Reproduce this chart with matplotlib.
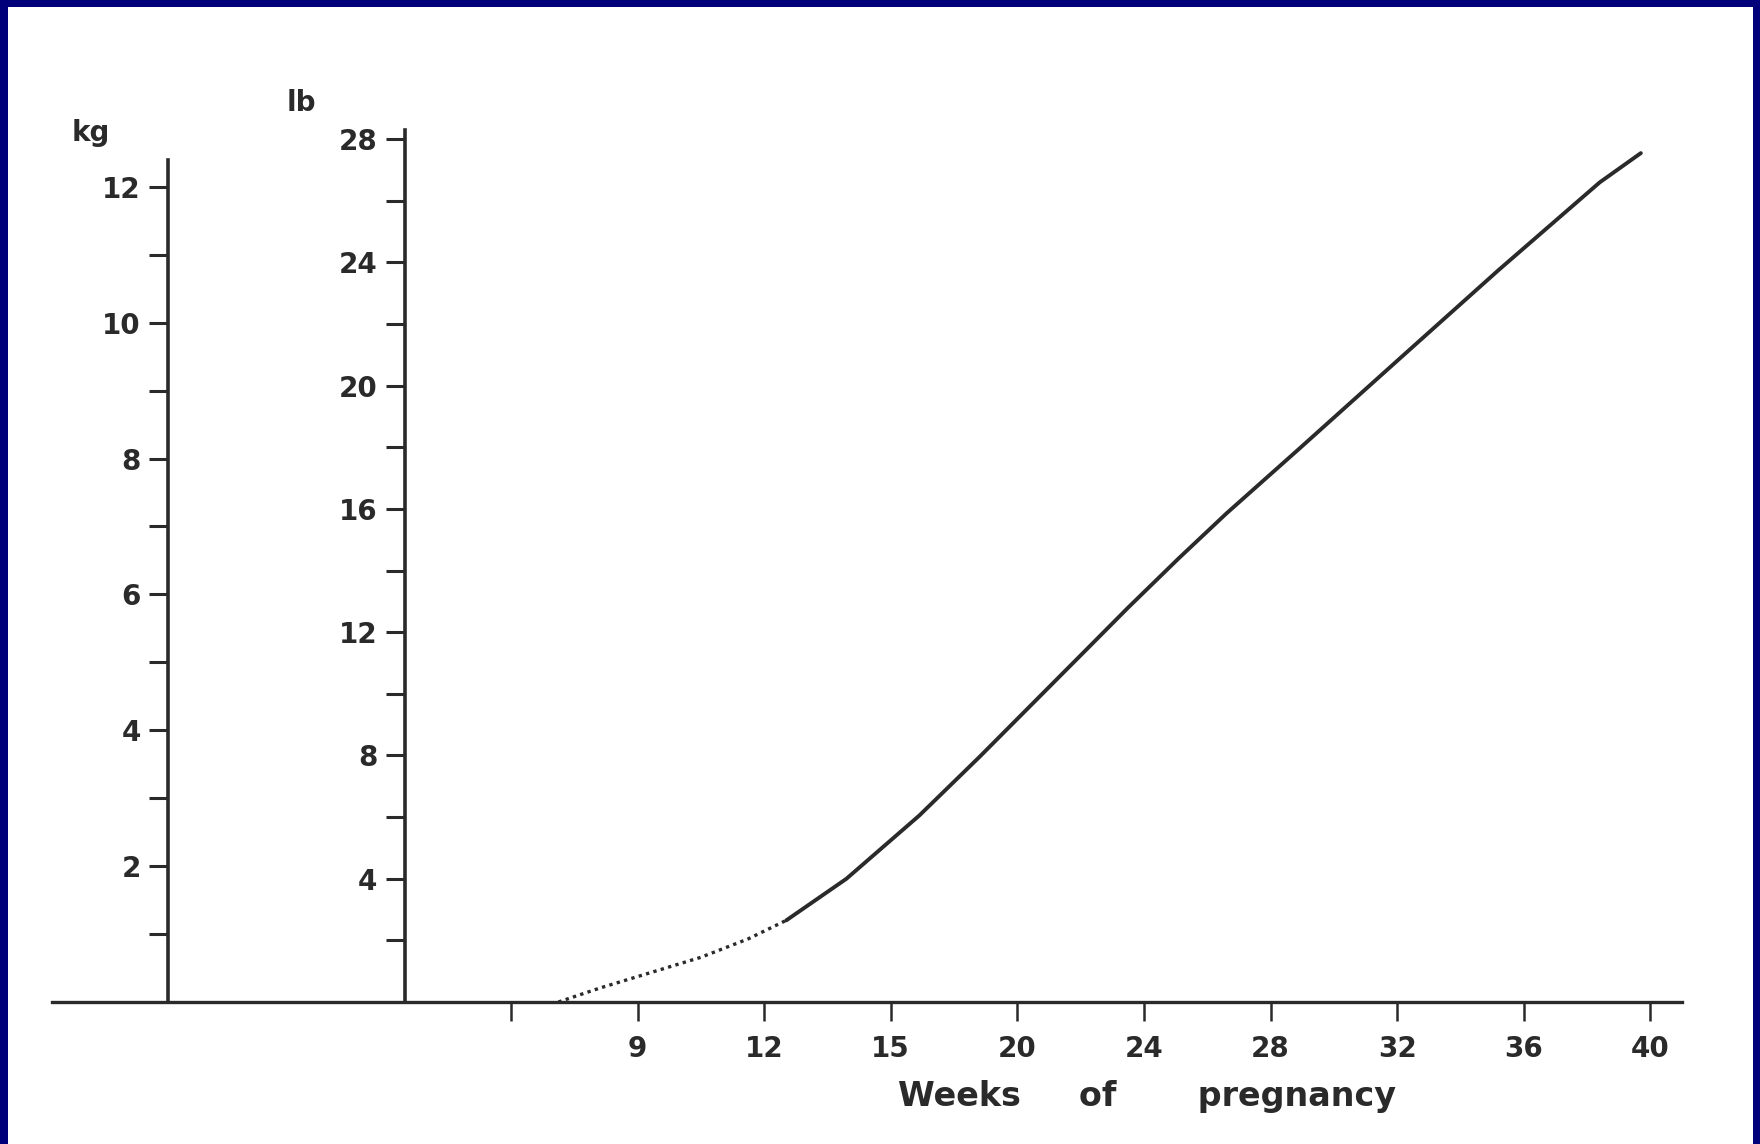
import numpy as np
import matplotlib.pyplot as plt
from matplotlib.patches import Rectangle

# weight gain (lb against weeks)
weeks_dotted = [5.5, 6.8, 8.4, 10.0, 11.5, 12.7]
gain_dotted = [0.0, 0.45, 0.95, 1.45, 2.05, 2.65]
weeks_solid = [12.7, 14.6, 16.9, 18.8, 20.4, 22.0, 23.5, 25.1, 26.6, 28.9, 32.1, 35.2, 38.4, 39.7]
gain_solid = [2.65, 4.0, 6.05, 7.95, 9.6, 11.25, 12.8, 14.4, 15.85, 17.95, 20.9, 23.75, 26.6, 27.55]

week_ticks = [8, 12, 16, 20, 24, 28, 32, 36, 40]
week_labels = ['9', '12', '15', '20', '24', '28', '32', '36', '40']  # as printed
week_minor = [4]
lb_ticks = [4, 8, 12, 16, 20, 24, 28]
lb_minor = [2, 6, 10, 14, 18, 22, 26]
kg_ticks = [2, 4, 6, 8, 10, 12]
kg_minor = [1, 3, 5, 7, 9, 11]

LB_PER_KG = 2.2046
ink = '#2a2a2a'
W, H = 1760, 1144

plt.rcParams['font.family'] = ['DejaVu Sans']
fig = plt.figure(figsize=(W / 100, H / 100), dpi=100)
fig.patch.set_facecolor('#00007a')
# white page inside the blue frame
fig.add_artist(Rectangle((8 / W, 0), (W - 15) / W, (H - 7) / H,
                         transform=fig.transFigure, facecolor='white',
                         edgecolor='none', zorder=0))

ax = fig.add_axes([52 / W, (H - 1002) / H, 1630 / W, 872 / H])
ax.set_facecolor('none')
ax.set_xlim(-10.5, 41.0)
ax.set_ylim(0, 28.3)

for s in ['top', 'right']:
    ax.spines[s].set_visible(False)
ax.spines['bottom'].set_linewidth(2.4)
ax.spines['bottom'].set_color(ink)
ax.spines['left'].set_position(('data', 0.66))
ax.spines['left'].set_bounds(0, 28.3)
ax.spines['left'].set_linewidth(2.6)
ax.spines['left'].set_color(ink)

ax.set_xticks(week_ticks, week_labels)
ax.set_xticks(week_minor, minor=True)
ax.set_yticks(lb_ticks)
ax.set_yticks(lb_minor, minor=True)
ax.tick_params(axis='x', which='both', direction='out', length=14, width=1.8,
               pad=10, labelsize=20, colors=ink)
ax.tick_params(axis='y', which='both', direction='out', length=14, width=2.2,
               pad=6, labelsize=20, colors=ink)
for t in ax.get_xticklabels() + ax.get_yticklabels():
    t.set_fontweight('bold')

# kg scale on its own spine to the left
sec = ax.secondary_yaxis(-6.82, functions=(lambda v: v / LB_PER_KG, lambda v: v * LB_PER_KG),
                         transform=ax.transData)
sec.spines['left'].set_bounds(0, 12.4)
sec.spines['left'].set_linewidth(2.6)
sec.spines['left'].set_color(ink)
sec.set_yticks(kg_ticks)
sec.set_yticks(kg_minor, minor=True)
sec.tick_params(axis='y', which='both', direction='out', length=14, width=2.2,
                pad=6, labelsize=20, colors=ink)
for t in sec.get_yticklabels():
    t.set_fontweight('bold')

ax.plot(weeks_dotted, gain_dotted, color=ink, lw=2.4, ls=(0, (1, 1.3)))
ax.plot(weeks_solid, gain_solid, color=ink, lw=2.8, solid_capstyle='round',
        solid_joinstyle='round')

ax.set_xlabel('Weeks     of       pregnancy', fontsize=24, fontweight='bold', color=ink)
ax.xaxis.set_label_coords(0.672, -0.09)

fig.text(91 / W, 1 - 133 / H, 'kg', fontsize=20, fontweight='bold', color=ink,
         ha='center', va='center')
fig.text(301 / W, 1 - 103 / H, 'lb', fontsize=20, fontweight='bold', color=ink,
         ha='center', va='center')

fig.savefig('out.png', dpi=100, facecolor=fig.get_facecolor())
